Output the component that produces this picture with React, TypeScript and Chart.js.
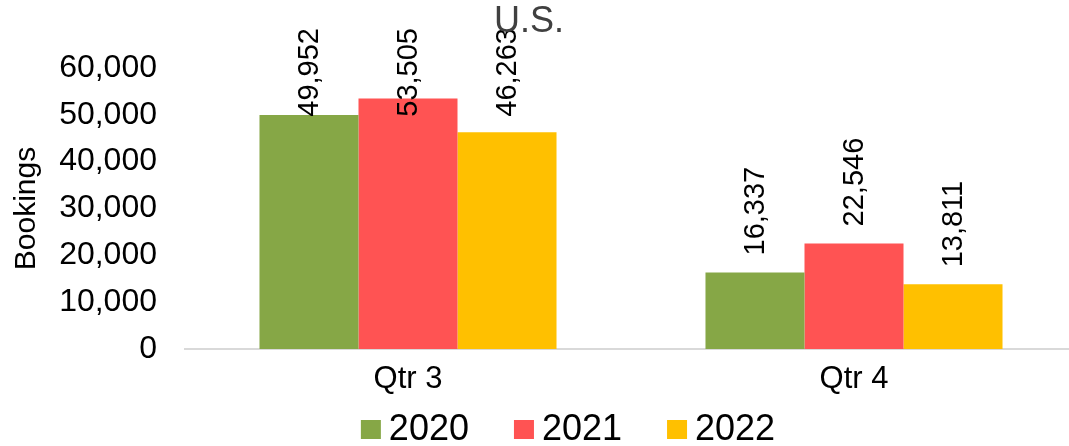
import React, { useEffect, useRef } from "react";
import { Chart, registerables } from "chart.js";

Chart.register(...registerables);

const categories = ["Qtr 3", "Qtr 4"];
const seriesNames = ["2020", "2021", "2022"];
const values2020 = [49952, 16337];
const values2021 = [53505, 22546];
const values2022 = [46263, 13811];
const seriesColors = ["#86A746", "#FF5353", "#FFC000"];
const yTickValues = [0, 10000, 20000, 30000, 40000, 50000, 60000];
const chartTitle = "U.S.";
const yAxisTitle = "Bookings";

const FONT = "'Liberation Sans', Arial, sans-serif";

const fmt = (v: number) => v.toLocaleString("en-US");

const dataLabelPlugin = {
  id: "rotLabels",
  afterDatasetsDraw(chart: any) {
    const ctx = chart.ctx;
    const minTop = chart.chartArea.top - 40;
    ctx.save();
    ctx.font = `29px ${FONT}`;
    ctx.fillStyle = "#000000";
    ctx.textAlign = "left";
    ctx.textBaseline = "middle";
    chart.data.datasets.forEach((ds: any, di: number) => {
      const meta = chart.getDatasetMeta(di);
      meta.data.forEach((bar: any, i: number) => {
        const text = fmt(ds.data[i]);
        const w = ctx.measureText(text).width;
        const bottom = Math.max(bar.y - 17, minTop + w);
        ctx.save();
        ctx.translate(bar.x, bottom);
        ctx.rotate(-Math.PI / 2);
        ctx.fillText(text, 0, 1);
        ctx.restore();
      });
    });
    ctx.restore();
  },
};

const titleLegendPlugin = {
  id: "titleLegend",
  afterDraw(chart: any) {
    const ctx = chart.ctx;
    ctx.save();
    // title
    ctx.font = `36px ${FONT}`;
    ctx.fillStyle = "#404040";
    ctx.textAlign = "center";
    ctx.textBaseline = "middle";
    ctx.fillText(chartTitle, 529, 22);
    // legend
    ctx.font = `36px ${FONT}`;
    const boxW = 20;
    const boxH = 19;
    const gap = 8;
    const itemPad = 45;
    const items = chart.data.datasets.map((ds: any) => ({
      label: ds.label,
      color: ds.backgroundColor,
      w: boxW + gap + ctx.measureText(ds.label).width,
    }));
    const total =
      items.reduce((s: number, it: any) => s + it.w, 0) + itemPad * (items.length - 1);
    let x = 568 - total / 2;
    const cy = 429.5;
    ctx.textAlign = "left";
    items.forEach((it: any) => {
      ctx.fillStyle = it.color;
      ctx.fillRect(x, cy - boxH / 2, boxW, boxH);
      ctx.fillStyle = "#000000";
      ctx.fillText(it.label, x + boxW + gap, cy + 1);
      x += it.w + itemPad;
    });
    ctx.restore();
  },
};

export default function App() {
  const canvasRef = useRef<HTMLCanvasElement | null>(null);

  useEffect(() => {
    if (!canvasRef.current) return;
    const seriesValues = [values2020, values2021, values2022];
    const chart = new Chart(canvasRef.current, {
      type: "bar",
      data: {
        labels: categories,
        datasets: seriesNames.map((name, i) => ({
          label: name,
          data: seriesValues[i],
          backgroundColor: seriesColors[i],
          borderWidth: 0,
          categoryPercentage: 0.666,
          barPercentage: 1,
        })),
      },
      options: {
        responsive: false,
        animation: false,
        devicePixelRatio: 1,
        layout: { padding: { top: 68, right: 3, bottom: 0, left: 0 } },
        plugins: {
          legend: { display: false },
          title: { display: false },
          tooltip: { enabled: false },
        },
        scales: {
          x: {
            grid: { display: false, drawTicks: false },
            border: { display: true, color: "#D9D9D9", width: 2 },
            ticks: {
              color: "#000000",
              font: { family: FONT, size: 31 },
              padding: 12,
            },
            afterFit: (s: any) => {
              s.height = 97;
            },
          },
          y: {
            min: 0,
            max: 60000,
            grid: { display: false, drawTicks: false },
            border: { display: false },
            ticks: {
              color: "#000000",
              font: { family: FONT, size: 32 },
              padding: 28,
              callback: (v: any) => fmt(Number(v)),
            },
            afterBuildTicks: (s: any) => {
              s.ticks = yTickValues.map((v) => ({ value: v }));
            },
            afterFit: (s: any) => {
              s.width = 185;
            },
            title: {
              display: true,
              text: yAxisTitle,
              color: "#000000",
              font: { family: FONT, size: 30 },
              padding: { top: 9, bottom: 0 },
            },
          },
        },
      },
      plugins: [dataLabelPlugin, titleLegendPlugin],
    });
    return () => chart.destroy();
  }, []);

  return (
    <div
      style={{
        position: "fixed",
        left: 0,
        top: 0,
        width: 1069,
        height: 446,
        overflow: "hidden",
        background: "#ffffff",
      }}
    >
      <canvas ref={canvasRef} width={1080} height={446} style={{ display: "block" }} />
    </div>
  );
}
